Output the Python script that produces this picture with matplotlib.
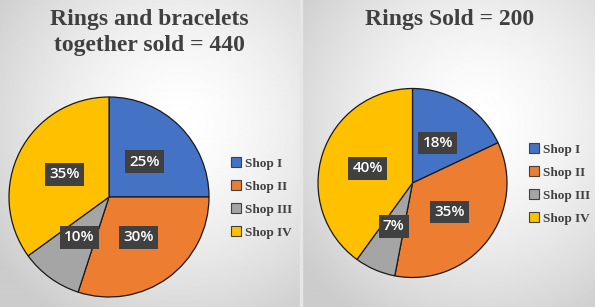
import numpy as np
import matplotlib.pyplot as plt
from matplotlib.patches import Patch

shops = ['Shop I', 'Shop II', 'Shop III', 'Shop IV']
combined_pct = [25, 30, 10, 35]
rings_pct = [18, 35, 7, 40]
colors = ['#4472C4', '#ED7D31', '#A5A5A5', '#FFC000']
titles = ['Rings and bracelets\ntogether sold = 440', 'Rings Sold = 200']

W, H = 595, 307
fig = plt.figure(figsize=(W / 100, H / 100), dpi=100)


def gradient(ax, cx, cy):
    x = np.linspace(0, 1, 300)
    y = np.linspace(0, 1, 310)
    X, Y = np.meshgrid(x, y)
    d = np.sqrt((X - cx) ** 2 + (Y - cy) ** 2)
    v = 1.0 - 0.2 * np.clip(d / 0.75, 0, 1) ** 1.5
    ax.imshow(v, cmap='gray', vmin=0, vmax=1, extent=[0, 1, 0, 1],
              origin='lower', aspect='auto')
    ax.axis('off')


# backgrounds
bg1 = fig.add_axes([0, 0, 300 / W, 1])
gradient(bg1, 0.6, 0.6)
bg2 = fig.add_axes([302 / W, 0, 293 / W, 1])
gradient(bg2, 0.6, 0.6)
fig.patches.append(plt.Rectangle((300 / W, 0), 2 / W, 1, transform=fig.transFigure,
                                 color='#e6e6e6', zorder=0))

# (left, bottom, size) of each pie in pixels
boxes = [(9, 10, 200), (318, 29.5, 189)]
legend_pos = [(231, 198), (529, 184)]
title_pos = [(149, 298), (450, 298)]

for vals, (l, b, s), lp, tp, title in zip([combined_pct, rings_pct], boxes,
                                          legend_pos, title_pos, titles):
    ax = fig.add_axes([l / W, b / H, s / W, s / H])
    wedges, texts, autotexts = ax.pie(
        vals, colors=colors, startangle=90, counterclock=False,
        autopct=lambda p: f'{p:.0f}%', pctdistance=0.5,
        wedgeprops=dict(edgecolor='#1a1a1a', linewidth=0.9))
    for t in autotexts:
        t.set_color('white')
        t.set_fontsize(11)
        t.set_fontfamily('Open Sans')
        t.set_fontweight('semibold')
        t.set_bbox(dict(boxstyle='square,pad=0.28', facecolor='#404040',
                        edgecolor='none'))
    ax.set_xlim(-1, 1)
    ax.set_ylim(-1, 1)
    ax.axis('off')

    handles = [Patch(facecolor=c, edgecolor='#404040', linewidth=0.8) for c in colors]
    fig.legend(handles, shops, loc='center left',
               bbox_to_anchor=(lp[0] / W, (H - lp[1]) / H),
               frameon=False, borderpad=0, borderaxespad=0,
               handlelength=0.75, handleheight=0.75,
               handletextpad=0.3, labelspacing=0.8,
               prop=dict(family='Liberation Serif', weight='bold', size=9.5),
               labelcolor='#404040')

    fig.text(tp[0] / W, tp[1] / H, title, ha='center', va='top',
             fontsize=17, fontweight='bold', family='Liberation Serif',
             color='#404040', linespacing=1.3)

fig.savefig('out.png', dpi=100)
